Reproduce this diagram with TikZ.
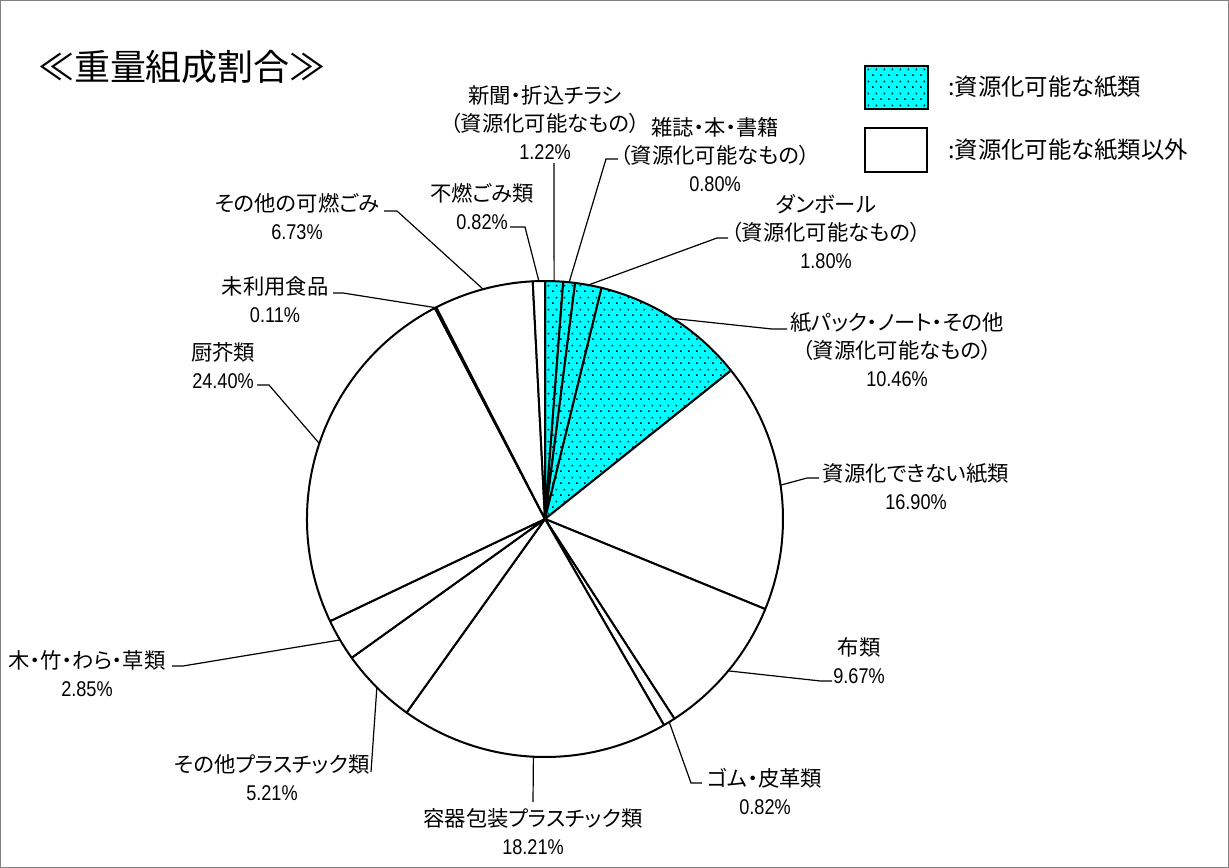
\documentclass[tikz,border=0pt]{standalone}
\usepackage{fontspec}
\usetikzlibrary{calc,patterns.meta}
\newfontfamily\jp{Noto Sans CJK JP}[RawFeature=+palt]
\newfontfamily\jpw{Noto Sans CJK JP}
\newfontfamily\numf{Liberation Sans}[FakeStretch=0.85]
\definecolor{cy}{RGB}{0,255,255}
\tikzdeclarepattern{
  name=pdots,
  type=uncolored,
  bounding box={(0pt,0pt) and (6pt,9pt)},
  tile size={(6pt,9pt)},
  code={
    \fill (0pt,0pt) rectangle (1.3pt,1.3pt);
    \fill (3pt,4.5pt) rectangle (4.3pt,5.8pt);
  }
}
\tikzset{
  rcslice/.style={draw=black, line width=1.5pt, line join=round, fill=cy, postaction={pattern=pdots, pattern color=black}},
  whslice/.style={draw=black, line width=1.5pt, line join=round, fill=white},
  leader/.style={draw=black, line width=0.9pt},
  lab/.style={align=center, inner sep=0pt, font=\jp\fontsize{16pt}{21pt}\selectfont},
  legtxt/.style={anchor=west, inner sep=0pt, font=\jp\fontsize{17.5pt}{21pt}\selectfont},
  legbox/.style={draw=black, line width=1.1pt}
}
\begin{document}
\begin{tikzpicture}[x=0.75pt,y=-0.75pt]
\useasboundingbox (0,0) rectangle (1229,868);
\draw[gray, line width=0.75pt] (0.5,0.5) rectangle (1228.5,867.5);

% title
\node[inner sep=0pt, font=\jpw\fontsize{27pt}{30pt}\selectfont] (title) at (182,67) {≪重量組成割合≫};

% legend
\draw[legbox, fill=cy, postaction={pattern=pdots, pattern color=black}] (865,66) rectangle (928,109);
\node[legtxt] (leg1) at (948,87) {:資源化可能な紙類};
\draw[legbox, fill=white] (865,128) rectangle (927,172);
\node[legtxt] (leg2) at (948,150) {:資源化可能な紙類以外};

% pie
\coordinate (c) at (545,519);
\def\R{238}
\foreach \a/\b/\s in {
  -90/-85.608/rcslice, -85.608/-82.728/rcslice, -82.728/-76.248/rcslice, -76.248/-38.592/rcslice,
  -38.592/22.248/whslice, 22.248/57.06/whslice, 57.06/60.012/whslice, 60.012/125.568/whslice,
  125.568/144.324/whslice, 144.324/154.584/whslice, 154.584/242.424/whslice, 242.424/242.82/whslice,
  242.82/267.048/whslice, 267.048/270/whslice}
{
  \draw[\s] (c) -- ($(c)+(\a:\R)$) arc[start angle=\a, end angle=\b, radius=\R] -- cycle;
}

% edge points of leaders (mid angles)
\coordinate (e1) at ($(c)+(-87.804:\R)$);
\coordinate (e2) at ($(c)+(-84.168:\R)$);
\coordinate (e3) at ($(c)+(-79.488:\R)$);
\coordinate (e4) at ($(c)+(-57.42:\R)$);
\coordinate (e5) at ($(c)+(-8.172:\R)$);
\coordinate (e6) at ($(c)+(39.654:\R)$);
\coordinate (e7) at ($(c)+(58.536:\R)$);
\coordinate (e8) at ($(c)+(92.79:\R)$);
\coordinate (e9) at ($(c)+(134.946:\R)$);
\coordinate (e10) at ($(c)+(149.454:\R)$);
\coordinate (e11) at ($(c)+(198.504:\R)$);
\coordinate (e12) at ($(c)+(242.622:\R)$);
\coordinate (e13) at ($(c)+(254.934:\R)$);
\coordinate (e14) at ($(c)+(268.524:\R)$);

% labels
\node[lab] (l1) at (545,123) {新聞・折込チラシ\\（資源化可能なもの）\\{\numf 1.22\%}};
\node[lab] (l2) at (715,155) {雑誌・本・書籍\\（資源化可能なもの）\\{\numf 0.80\%}};
\node[lab] (l3) at (826,232) {ダンボール\\（資源化可能なもの）\\{\numf 1.80\%}};
\node[lab] (l4) at (897,350) {紙パック・ノート・その他\\（資源化可能なもの）\\{\numf 10.46\%}};
\node[lab] (l5) at (916,487) {資源化できない紙類\\{\numf 16.90\%}};
\node[lab] (l6) at (859,661) {布類\\{\numf 9.67\%}};
\node[lab] (l7) at (765,791) {ゴム・皮革類\\{\numf 0.82\%}};
\node[lab] (l8) at (533,832) {容器包装プラスチック類\\{\numf 18.21\%}};
\node[lab] (l9) at (272,778) {その他プラスチック類\\{\numf 5.21\%}};
\node[lab] (l10) at (87,674) {木・竹・わら・草類\\{\numf 2.85\%}};
\node[lab] (l11) at (223,366) {厨芥類\\{\numf 24.40\%}};
\node[lab] (l12) at (275,300) {未利用食品\\{\numf 0.11\%}};
\node[lab] (l13) at (297,217) {その他の可燃ごみ\\{\numf 6.73\%}};
\node[lab] (l14) at (482,207) {不燃ごみ類\\{\numf 0.82\%}};

% leader bends
\coordinate (b1) at (554,163);
\coordinate (b2) at (606,159); \coordinate (t2) at (618,159);
\coordinate (b3) at (717,238); \coordinate (t3) at (728,238);
\coordinate (b4) at (772,329); \coordinate (t4) at (787,329);
\coordinate (b5) at (807,478); \coordinate (t5) at (819,478);
\coordinate (b6) at (820.5,681); \coordinate (t6) at (832,681);
\coordinate (b7) at (691,783); \coordinate (t7) at (702,783);
\coordinate (b8) at (533,802);
\coordinate (b9) at (371,772);
\coordinate (b10) at (183,666); \coordinate (t10) at (172,666);
\coordinate (b11) at (269,385); \coordinate (t11) at (257,385);
\coordinate (b12) at (343,293); \coordinate (t12) at (333,293);
\coordinate (b13) at (397,211); \coordinate (t13) at (384,211);
\coordinate (b14) at (525,227); \coordinate (t14) at (510,227);

\draw[leader] (e1) -- (b1);
\draw[leader] (e2) -- (b2) -- (t2);
\draw[leader] (e3) -- (b3) -- (t3);
\draw[leader] (e4) -- (b4) -- (t4);
\draw[leader] (e5) -- (b5) -- (t5);
\draw[leader] (e6) -- (b6) -- (t6);
\draw[leader] (e7) -- (b7) -- (t7);
\draw[leader] (e8) -- (b8);
\draw[leader] (e9) -- (b9);
\draw[leader] (e10) -- (b10) -- (t10);
\draw[leader] (e11) -- (b11) -- (t11);
\draw[leader] (e12) -- (b12) -- (t12);
\draw[leader] (e13) -- (b13) -- (t13);
\draw[leader] (e14) -- (b14) -- (t14);
\end{tikzpicture}
\end{document}
